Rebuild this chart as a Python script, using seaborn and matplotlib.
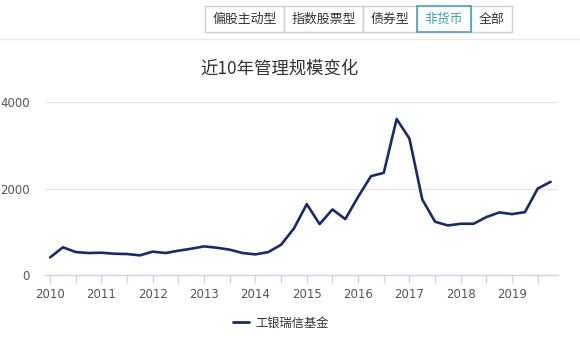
import matplotlib
matplotlib.use("Agg")
import matplotlib.pyplot as plt
from matplotlib.patches import Rectangle
from matplotlib.lines import Line2D
import seaborn as sns
import pandas as pd
import numpy as np

# ---- data ----
quarters = [f"{y}Q{q}" for y in range(2010, 2020) for q in range(1, 5)]
values = [408, 640, 530, 508, 515, 492, 485, 455, 540, 508,
          562, 608, 662, 630, 585, 508, 477, 530, 700, 1077,
          1638, 1177, 1516, 1292, 1807, 2285, 2362, 3607, 3154, 1746,
          1231, 1146, 1185, 1185, 1339, 1447, 1408, 1454, 2000, 2154]
years = [str(y) for y in range(2010, 2020)]
yticks = [0, 2000, 4000]
series_name = "工银瑞信基金"
title = "近10年管理规模变化"
buttons = ["偏股主动型", "指数股票型", "债券型", "非货币", "全部"]
selected_button = "非货币"

sns.set_theme(style="white")
plt.rcParams['font.family'] = ['Noto Sans CJK SC', 'DejaVu Sans']

W, H = 580, 340
fig = plt.figure(figsize=(W / 100, H / 100), dpi=100)
fig.patch.set_facecolor("white")

def fx(px):
    return px / W

def fy(py):
    return 1 - py / H

ax = fig.add_axes([fx(45), fy(275), fx(558.3) - fx(45), fy(102) - fy(275)])

df = pd.DataFrame({"idx": np.arange(len(values)), "value": values, "series": series_name})
line_color = "#1b2a6b"
sns.lineplot(data=df, x="idx", y="value", ax=ax, color=line_color, linewidth=1.9,
             legend=False)

ax.set_xlim(-0.4, 39.6)
ax.set_ylim(0, 4000)
ax.set_yticks(yticks)
ax.set_yticklabels([str(v) for v in yticks])
ax.set_xticks(np.arange(0, 40, 4))
ax.set_xticklabels(years)
ax.set_xticks(np.arange(0, 40, 2), minor=True)
ax.set_xlabel("")
ax.set_ylabel("")

for s in ["top", "right", "left"]:
    ax.spines[s].set_visible(False)
ax.spines["bottom"].set_color("#ccd6eb")
ax.spines["bottom"].set_linewidth(1)
ax.grid(axis="y", color="#e6e6e6", linewidth=1)
ax.set_axisbelow(True)
ax.tick_params(axis="y", length=0, pad=11, labelsize=8.5, labelcolor="#555555")
ax.tick_params(axis="x", which="both", direction="out", length=6, width=1,
               color="#ccd6eb", bottom=True, labelsize=8.5, labelcolor="#555555", pad=3)
for lab in ax.get_yticklabels() + ax.get_xticklabels():
    lab.set_family(['DejaVu Sans'])

# title
fig.text(fx(279), fy(69), title, ha="center", va="center", fontsize=12.5, color="#333333")

# legend
handle = Line2D([0], [0], color=line_color, linewidth=2)
fig.legend([handle], [series_name], loc="center", bbox_to_anchor=(fx(281), fy(323)),
           frameon=False, fontsize=8.8, handlelength=1.3, handletextpad=0.5,
           labelcolor="#333333")

# top separator line
fig.add_artist(Line2D([0, 1], [fy(39), fy(39)], color="#e8e8e8", linewidth=1,
                      transform=fig.transFigure))

# buttons
edges = [205, 284, 363, 417, 471, 512]
for i, name in enumerate(buttons):
    x0, x1 = edges[i], edges[i + 1]
    rect = Rectangle((fx(x0), fy(31.5)), fx(x1) - fx(x0), fy(6) - fy(31.5),
                     transform=fig.transFigure, facecolor="white", edgecolor="#d0d0d0",
                     linewidth=1)
    fig.add_artist(rect)
for i, name in enumerate(buttons):
    x0, x1 = edges[i], edges[i + 1]
    sel = name == selected_button
    if sel:
        rect = Rectangle((fx(x0), fy(31.5)), fx(x1) - fx(x0), fy(6) - fy(31.5),
                         transform=fig.transFigure, facecolor="none",
                         edgecolor="#3a9fb5", linewidth=1.1, zorder=5)
        fig.add_artist(rect)
    fig.text(fx((x0 + x1) / 2), fy(19), name, ha="center", va="center",
             fontsize=9.3, color="#3a9fb5" if sel else "#333333")

fig.savefig("out.png", dpi=100, facecolor="white")
